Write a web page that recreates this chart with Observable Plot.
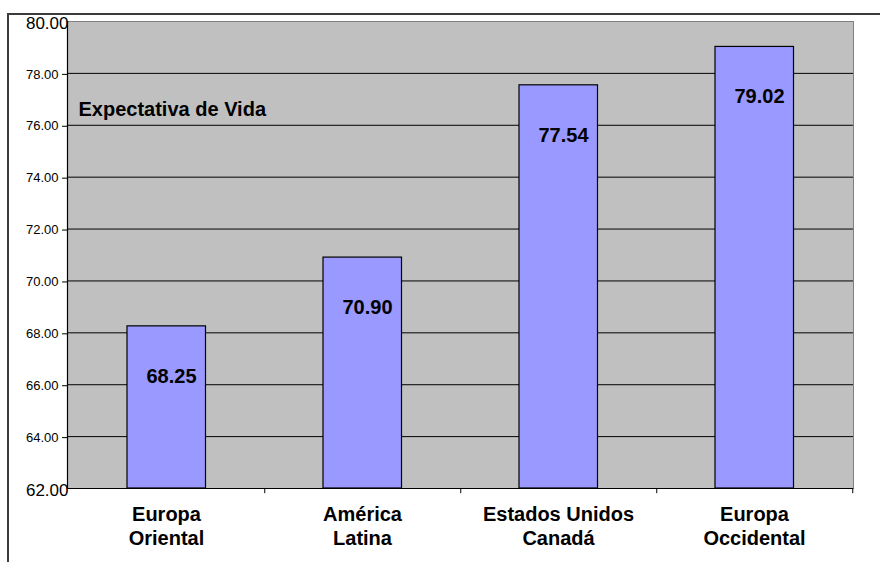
<!DOCTYPE html>
<html><head><meta charset="utf-8">
<script src="https://cdn.jsdelivr.net/npm/d3@7"></script>
<script src="https://cdn.jsdelivr.net/npm/@observablehq/plot@0.6"></script>
<style>
body{margin:0;background:#fff;}
#wrap{position:relative;width:880px;height:562px;overflow:hidden}
#wrap svg{display:block}
#border{position:absolute;left:7px;top:13px;width:900px;height:600px;border-top:2px solid #3c3c3c;border-left:2px solid #3c3c3c;pointer-events:none}
</style></head><body><div id="wrap"></div>
<script>
const categories = ["Europa\nOriental", "América\nLatina", "Estados Unidos\nCanadá", "Europa\nOccidental"];
const values = [68.25, 70.90, 77.54, 79.02];
const yTicks = [64, 66, 68, 70, 72, 74, 76, 78];
const yEndTicks = [62, 80];
const title = "Expectativa de Vida";

const data = categories.map((c, i) => ({region: c, value: values[i]}));
const font = "'Liberation Sans', Arial, sans-serif";

const chart = Plot.plot({
  width: 880,
  height: 562,
  marginLeft: 67,
  marginRight: 27,
  marginTop: 21,
  marginBottom: 74,
  style: {fontFamily: font, background: "transparent", color: "black"},
  x: {domain: categories, padding: 0, label: null},
  y: {domain: [62, 80], label: null},
  marks: [
    Plot.frame({fill: "#C0C0C0", stroke: "#808080"}),
    Plot.ruleY(yTicks, {stroke: "black", strokeWidth: 1}),
    Plot.barY(data, {x: "region", y1: 62, y2: "value", fill: "#9999FF", stroke: "black", strokeWidth: 1.2, insetLeft: 59, insetRight: 58.5}),
    Plot.ruleX(categories, {x: d => d, y1: 62, y2: 61.8, dx: 98.25, stroke: "black"}),
    Plot.ruleY([62], {stroke: "black", strokeWidth: 1.2}),
    Plot.frame({anchor: "left", stroke: "black", strokeWidth: 1.2}),
    Plot.axisY(yTicks, {tickSize: 5, tickPadding: 4, fontSize: 13, dy: 1, tickFormat: d3.format(".2f"), label: null}),
    Plot.axisY(yEndTicks, {tickSize: 0, tickPadding: -1, fontSize: 17, dy: 2.5, tickFormat: d3.format(".2f"), label: null}),
    Plot.axisX({tickSize: 0, tickPadding: 15, fontSize: 20, fontWeight: "bold", lineHeight: 1.2, label: null}),
    Plot.text(data, {x: "region", y: "value", text: d => d3.format(".2f")(d.value), dy: 50, dx: 5, fontSize: 20, fontWeight: "bold", fill: "black"}),
    Plot.text([title], {frameAnchor: "top-left", dx: 11, dy: 80, textAnchor: "start", lineAnchor: "top", fontSize: 20, fontWeight: "bold", fill: "black"})
  ]
});
const wrap = document.getElementById("wrap");
wrap.appendChild(chart);
const b = document.createElement("div");
b.id = "border";
wrap.appendChild(b);
</script>
</body></html>
